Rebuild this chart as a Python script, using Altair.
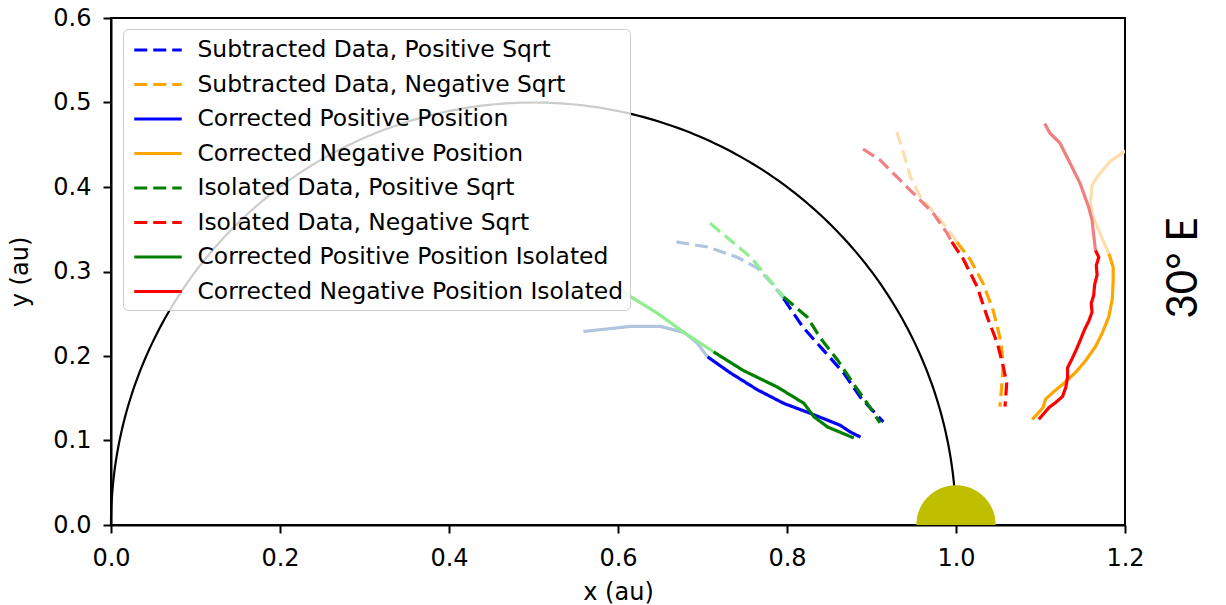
import numpy as np
import pandas as pd
import altair as alt

# ---- series (x, y in au) ----
sub_pos_x = [0.796, 0.819, 0.843, 0.867, 0.887, 0.914]
sub_pos_y = [0.268, 0.234, 0.207, 0.180, 0.151, 0.122]
sub_pos_faded_x = [0.669, 0.706, 0.741, 0.765, 0.780, 0.796]
sub_pos_faded_y = [0.335, 0.329, 0.317, 0.304, 0.288, 0.268]

sub_neg_x = [1.001, 1.017, 1.032, 1.044, 1.052, 1.056, 1.054, 1.052]
sub_neg_y = [0.335, 0.314, 0.286, 0.254, 0.222, 0.192, 0.163, 0.140]
sub_neg_faded_x = [0.930, 0.938, 0.946, 0.958, 0.978, 0.997, 1.001]
sub_neg_faded_y = [0.465, 0.440, 0.412, 0.388, 0.365, 0.341, 0.335]

cor_pos_x = [0.706, 0.733, 0.765, 0.796, 0.828, 0.863, 0.875, 0.887]
cor_pos_y = [0.199, 0.180, 0.160, 0.144, 0.132, 0.118, 0.110, 0.104]
cor_pos_faded_x = [0.559, 0.615, 0.650, 0.678, 0.694, 0.706]
cor_pos_faded_y = [0.229, 0.235, 0.235, 0.228, 0.215, 0.199]

cor_neg_x = [1.181, 1.186, 1.186, 1.185, 1.181, 1.173, 1.165, 1.153, 1.141, 1.128, 1.116, 1.106, 1.103, 1.096, 1.090]
cor_neg_y = [0.321, 0.305, 0.288, 0.268, 0.247, 0.227, 0.211, 0.194, 0.180, 0.168, 0.158, 0.149, 0.139, 0.131, 0.125]
cor_neg_faded_x = [1.205, 1.198, 1.182, 1.167, 1.161, 1.159, 1.162, 1.170, 1.181]
cor_neg_faded_y = [0.445, 0.441, 0.430, 0.412, 0.402, 0.381, 0.365, 0.346, 0.321]

iso_pos_x = [0.796, 0.824, 0.839, 0.860, 0.878, 0.895, 0.910]
iso_pos_y = [0.270, 0.246, 0.222, 0.195, 0.168, 0.144, 0.121]
iso_pos_faded_x = [0.709, 0.733, 0.757, 0.777, 0.796]
iso_pos_faded_y = [0.357, 0.337, 0.317, 0.293, 0.270]

iso_neg_x = [0.995, 1.009, 1.025, 1.037, 1.049, 1.056, 1.060, 1.058]
iso_neg_y = [0.335, 0.314, 0.282, 0.246, 0.215, 0.187, 0.168, 0.140]
iso_neg_faded_x = [0.890, 0.910, 0.934, 0.954, 0.973, 0.989, 0.995]
iso_neg_faded_y = [0.445, 0.432, 0.408, 0.388, 0.369, 0.346, 0.335]

cori_pos_x = [0.713, 0.748, 0.789, 0.820, 0.832, 0.848, 0.879]
cori_pos_y = [0.205, 0.183, 0.163, 0.144, 0.128, 0.116, 0.103]
cori_pos_faded_x = [0.600, 0.612, 0.646, 0.678, 0.713]
cori_pos_faded_y = [0.282, 0.272, 0.251, 0.228, 0.205]

cori_neg_x = [1.165, 1.169, 1.166, 1.167, 1.164, 1.163, 1.160, 1.161, 1.157, 1.152, 1.148, 1.143, 1.137,
              1.132, 1.132, 1.130, 1.126, 1.118, 1.110, 1.104, 1.098]
cori_neg_y = [0.325, 0.317, 0.307, 0.296, 0.284, 0.272, 0.262, 0.252, 0.241, 0.231, 0.221, 0.209, 0.196,
              0.186, 0.175, 0.163, 0.152, 0.145, 0.139, 0.132, 0.125]
cori_neg_faded_x = [1.105, 1.111, 1.123, 1.135, 1.147, 1.157, 1.161, 1.165]
cori_neg_faded_y = [0.475, 0.464, 0.452, 0.428, 0.404, 0.376, 0.361, 0.325]

names = [
    "Subtracted Data, Positive Sqrt",
    "Subtracted Data, Negative Sqrt",
    "Corrected Positive Position",
    "Corrected Negative Position",
    "Isolated Data, Positive Sqrt",
    "Isolated Data, Negative Sqrt",
    "Corrected Positive Position Isolated",
    "Corrected Negative Position Isolated",
]
colors = ["blue", "orange", "blue", "orange", "green", "red", "green", "red"]
dashed = [True, True, False, False, True, True, False, False]
faded_colors = ["#b0c4de", "#ffdead", "#b0c4de", "#ffdead", "#90ee90", "#f08080", "#90ee90", "#f08080"]

main_xy = [(sub_pos_x, sub_pos_y), (sub_neg_x, sub_neg_y), (cor_pos_x, cor_pos_y), (cor_neg_x, cor_neg_y),
           (iso_pos_x, iso_pos_y), (iso_neg_x, iso_neg_y), (cori_pos_x, cori_pos_y), (cori_neg_x, cori_neg_y)]
faded_xy = [(sub_pos_faded_x, sub_pos_faded_y), (sub_neg_faded_x, sub_neg_faded_y),
            (cor_pos_faded_x, cor_pos_faded_y), (cor_neg_faded_x, cor_neg_faded_y),
            (iso_pos_faded_x, iso_pos_faded_y), (iso_neg_faded_x, iso_neg_faded_y),
            (cori_pos_faded_x, cori_pos_faded_y), (cori_neg_faded_x, cori_neg_faded_y)]

DASH = [13, 6]

rows = []
for n, (xs, ys) in zip(names, main_xy):
    for i, (a, b) in enumerate(zip(xs, ys)):
        rows.append({"series": n, "x": a, "y": b, "i": i})
main_df = pd.DataFrame(rows)

xsc = alt.Scale(domain=[0, 1.2], nice=False, zero=False)
ysc = alt.Scale(domain=[0, 0.6], nice=False, zero=False)
X = lambda f="x": alt.X(f"{f}:Q", scale=xsc, axis=alt.Axis(values=[0, 0.2, 0.4, 0.6, 0.8, 1.0, 1.2], format=".1f"), title="x (au)")
Y = lambda f="y": alt.Y(f"{f}:Q", scale=ysc, axis=alt.Axis(values=[0, 0.1, 0.2, 0.3, 0.4, 0.5, 0.6], format=".1f"), title="y (au)")

# reference circle (Thomson sphere) and Sun
th = np.linspace(0, np.pi, 241)
circle_df = pd.DataFrame({"x": 0.5 + 0.5 * np.cos(th), "y": 0.5 * np.sin(th), "i": np.arange(241)})
sun_r = 0.047
sx = np.linspace(1 - sun_r, 1 + sun_r, 121)
sun_df = pd.DataFrame({"x": sx, "y": np.sqrt(np.clip(sun_r**2 - (sx - 1) ** 2, 0, None))})

circle = alt.Chart(circle_df).mark_line(color="black", strokeWidth=2.2).encode(x=X(), y=Y(), order="i:Q")
sun = alt.Chart(sun_df).mark_area(color="#bfbf00", clip=True).encode(x=X(), y=Y())

layers = [circle, sun]
for n, (xs, ys), c, d in zip(names, faded_xy, faded_colors, dashed):
    df = pd.DataFrame({"x": xs, "y": ys, "i": range(len(xs))})
    kw = {"strokeDash": DASH} if d else {}
    layers.append(alt.Chart(df).mark_line(color=c, strokeWidth=3.2, clip=True, **kw)
                  .encode(x=X(), y=Y(), order="i:Q"))

leg = alt.Legend(
    title=None, orient="none", legendX=12, legendY=11,
    symbolType="M-1.9,0H1.9", symbolSize=625, symbolStrokeWidth=3.2, symbolOffset=14,
    labelFontSize=23.4, labelFont="DejaVu Sans", labelColor="black",
    labelOffset=25, rowPadding=8.5, padding=6.5,
    fillColor="rgba(255,255,255,0.8)", strokeColor="#cccccc", cornerRadius=5,
    labelLimit=600,
)
main = alt.Chart(main_df).mark_line(strokeWidth=3.2, clip=True).encode(
    x=X(), y=Y(), order="i:Q",
    color=alt.Color("series:N", scale=alt.Scale(domain=names, range=colors), legend=leg),
    strokeDash=alt.StrokeDash("series:N", scale=alt.Scale(domain=names, range=[DASH if d else [1, 0] for d in dashed]), legend=leg),
)
layers.append(main)

label_df = pd.DataFrame({"t": ["30° E"]})
label = alt.Chart(label_df).mark_text(font="Lato", fontSize=42, angle=270, color="black",
                                       align="center", baseline="middle").encode(
    text="t:N", x=alt.value(1073), y=alt.value(250))
layers.append(label)

chart = alt.layer(*layers).properties(
    width=1014, height=507,
    autosize=alt.AutoSizeParams(type="none"),
    padding={"left": 111, "top": 18, "right": 101, "bottom": 80},
).configure_view(stroke="black", strokeWidth=2).configure_axis(
    grid=False, domainColor="black", domainWidth=2, tickColor="black", tickWidth=2, tickSize=8,
    labelFont="DejaVu Sans", labelFontSize=24, labelColor="black", labelPadding=12, labelFlush=False,
    titleFont="DejaVu Sans", titleFontSize=24, titleFontWeight="normal", titleColor="black",
).configure_axisX(titlePadding=10, labelPadding=13).configure_axisY(titlePadding=20)

chart.save("out.html", embed_options={"renderer": "svg", "actions": False})
